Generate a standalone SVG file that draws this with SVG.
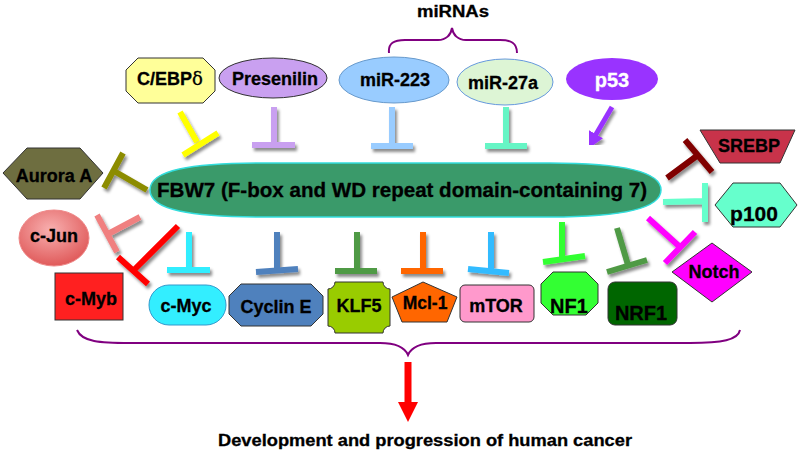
<svg xmlns="http://www.w3.org/2000/svg" width="800" height="455" viewBox="0 0 800 455">
<defs>
<style>
text{font-family:"Liberation Sans",Arial,sans-serif;font-weight:bold;fill:#000;stroke:#000;stroke-width:0.3;text-anchor:middle}
.lbl{font-size:18px}
.node{stroke:#333;stroke-width:1}
.t{fill:none;stroke-width:6;stroke-linecap:butt;filter:url(#sh)}
.brace{fill:none;stroke:#800080;stroke-width:2}
</style>
<filter id="sh" x="-30%" y="-30%" width="160%" height="160%">
<feDropShadow dx="2" dy="3" stdDeviation="1.5" flood-color="#000" flood-opacity="0.45"/>
</filter>
<radialGradient id="jun" cx="45%" cy="35%" r="65%">
<stop offset="0" stop-color="#f8b0b0"/>
<stop offset="1" stop-color="#e05a5a"/>
</radialGradient>
<marker id="ap" markerUnits="userSpaceOnUse" markerWidth="20" markerHeight="20" refX="2" refY="10" orient="auto">
<path d="M0,2 L18,10 L0,18 Z" fill="#9933ff"/>
</marker>
<marker id="ar" markerUnits="userSpaceOnUse" markerWidth="22" markerHeight="22" refX="2" refY="11" orient="auto">
<path d="M0,1 L20,11 L0,21 Z" fill="#ff0000"/>
</marker>
</defs>
<rect width="800" height="455" fill="#fff"/>

<g id="connectors">
<path class="brace" d="M389,53 C388,43 394,40 405,40 L438,40 C446,40 451,35 452,28 C453,35 458,40 466,40 L500,40 C511,40 517,43 517,53"/>
<path class="brace" d="M77,330 C82,342 100,343 130,343 L380,343 C397,343 405,348 408,355 C411,348 419,343 436,343 L690,343 C722,343 738,340 740,330"/>
<path class="t" stroke="#ffff00" d="M180,112 L197,142 M183,155 L218,133"/>
<path class="t" stroke="#c9a0f0" d="M274,107 L274,145 M252,145 L295,145"/>
<path class="t" stroke="#99ccff" d="M392,107 L392,146 M371,146 L413,146"/>
<path class="t" stroke="#66f5c5" d="M506,107 L506,146 M485,146 L527,146"/>
<line x1="612" y1="107" x2="595" y2="136" stroke="#9933ff" stroke-width="5" marker-end="url(#ap)" filter="url(#sh)"/>
<path class="t" stroke="#8c8c00" d="M147,190 L114,171 M123,153 L104,188"/>
<path class="t" stroke="#f08080" d="M140,217 L108,234 M97,215 L117,252"/>
<path class="t" stroke="#ff0000" d="M178,226 L133,271 M118,257 L148,284"/>
<path class="t" stroke="#33eeff" d="M189,232 L189,270 M167,270 L210,270"/>
<path class="t" stroke="#4f81bd" d="M277,232 L277,270 M256,272 L298,269"/>
<path class="t" stroke="#4f9a45" d="M357,232 L357,270 M335,271 L377,271"/>
<path class="t" stroke="#ff6600" d="M423,232 L423,270 M401,271 L443,271"/>
<path class="t" stroke="#33bbff" d="M491,232 L491,270 M468,269 L509,273"/>
<path class="t" stroke="#33ff33" d="M562,222 L562,259 M543,262 L585,256"/>
<path class="t" stroke="#4f9a45" d="M617,228 L628,265 M607,272 L647,260"/>
<path class="t" stroke="#ff00ff" d="M648,218 L680,247 M665,263 L695,232"/>
<path class="t" stroke="#66ffcc" d="M663,202 L705,201 M705,183 L705,222"/>
<path class="t" stroke="#800000" d="M667,178 L698,155 M685,140 L712,172"/>
<line x1="408" y1="362" x2="408" y2="404" stroke="#ff0000" stroke-width="7" marker-end="url(#ar)"/>
</g>

<g id="fbw7">
<path d="M150,190 C150,170 190,163 265,163 L550,163 C625,163 661,172 661,190 C661,208 625,217 550,217 L265,217 C190,217 150,210 150,190 Z" fill="#3a9a6a" stroke="#33dddd" stroke-width="1.5"/>
<text x="402" y="197" style="font-size:20.5px" textLength="490" lengthAdjust="spacingAndGlyphs">FBW7 (F-box and WD repeat domain-containing 7)</text>
</g>

<g id="mirnas-label"><text x="453" y="17" style="font-size:16px" textLength="72" lengthAdjust="spacingAndGlyphs">miRNAs</text></g>

<g id="cebpd">
<polygon class="node" points="138,58 203,58 215,70 215,91 203,103 138,103 126,91 126,70" fill="#ffff99"/>
<text class="lbl" x="170" y="85">C/EBP<tspan style="font-weight:normal;font-family:'DejaVu Serif',serif">δ</tspan></text>
</g>
<g id="presenilin">
<ellipse class="node" cx="273" cy="78" rx="54" ry="20" fill="#c9a0f0"/>
<text class="lbl" x="275" y="85">Presenilin</text>
</g>
<g id="mir223">
<ellipse cx="394" cy="80" rx="55" ry="23" fill="#99ccff" stroke="#6699cc" stroke-width="1"/>
<text class="lbl" x="395" y="86">miR-223</text>
</g>
<g id="mir27a">
<ellipse cx="505" cy="82" rx="48" ry="23" fill="#ddf5d5" stroke="#6699dd" stroke-width="1"/>
<text class="lbl" x="503" y="89">miR-27a</text>
</g>
<g id="p53">
<ellipse cx="612" cy="79" rx="46" ry="21" fill="#9933ff"/>
<text x="612" y="87" style="font-size:20px;fill:#fff;stroke:#fff">p53</text>
</g>

<g id="aurora">
<polygon class="node" points="3,173 27,148 80,148 103,173 80,199 27,199" fill="#6e6e40"/>
<text class="lbl" x="54" y="182">Aurora A</text>
</g>
<g id="cjun">
<ellipse cx="54" cy="238" rx="35" ry="28" fill="url(#jun)" stroke="#e88" stroke-width="1"/>
<text class="lbl" x="54" y="242">c-Jun</text>
</g>
<g id="cmyb">
<rect class="node" x="55" y="273" width="68" height="47" fill="#ff2020"/>
<text class="lbl" x="91" y="305">c-Myb</text>
</g>

<g id="cmyc">
<rect x="149" y="285" width="77" height="40" rx="20" fill="#33eeff" stroke="#3399cc" stroke-width="1"/>
<text class="lbl" x="186" y="312">c-Myc</text>
</g>
<g id="cycline">
<polygon class="node" points="241,284 311,284 323,296 323,314 311,326 241,326 229,314 229,296" fill="#4f81bd"/>
<text class="lbl" x="276" y="313">Cyclin E</text>
</g>
<g id="klf5">
<path class="node" d="M335,282 L383,282 A7,7 0 0 0 390,289 L390,326 A7,7 0 0 0 383,333 L335,333 A7,7 0 0 0 328,326 L328,289 A7,7 0 0 0 335,282 Z" fill="#99cc00"/>
<text class="lbl" x="359" y="312">KLF5</text>
</g>
<g id="mcl1">
<polygon class="node" points="423,282 457,297 447,322 402,322 392,297" fill="#ff6600"/>
<text class="lbl" x="425" y="309" style="font-size:17.5px">Mcl-1</text>
</g>
<g id="mtor">
<rect class="node" x="460" y="285" width="74" height="37" rx="5" fill="#ff99cc"/>
<text class="lbl" x="496" y="312">mTOR</text>
</g>
<g id="nf1">
<polygon class="node" points="553,272 586,272 598,284 598,303 586,315 553,315 541,303 541,284" fill="#33ff33"/>
<text x="569" y="313" style="font-size:20px">NF1</text>
</g>
<g id="nrf1">
<rect class="node" x="608" y="282" width="69" height="43" rx="7" fill="#006600"/>
<text x="641" y="320" style="font-size:20px">NRF1</text>
</g>
<g id="notch">
<polygon class="node" points="712,243 752,272 712,302 672,272" fill="#ff00ff"/>
<text class="lbl" x="714" y="278">Notch</text>
</g>
<g id="srebp">
<polygon class="node" points="700,130 795,130 780,163 720,163" fill="#c8334a"/>
<text class="lbl" x="749" y="152">SREBP</text>
</g>
<g id="p100">
<polygon class="node" points="715,205 733,183 780,183 797,205 780,227 733,227" fill="#66ffcc"/>
<text x="754" y="221" style="font-size:21px">p100</text>
</g>

<g id="outcome">
<text x="425" y="446" style="font-size:16.5px" textLength="414" lengthAdjust="spacingAndGlyphs">Development and progression of human cancer</text>
</g>
</svg>
